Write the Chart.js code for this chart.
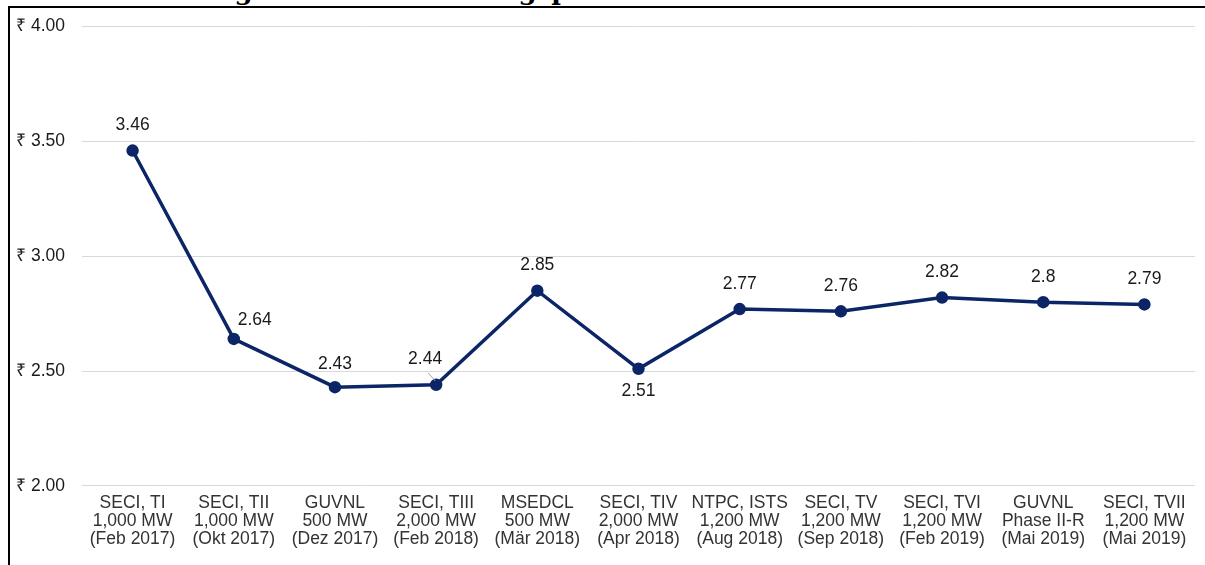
<!DOCTYPE html>
<html>
<head>
<meta charset="utf-8">
<script src="https://cdn.jsdelivr.net/npm/chart.js@4.4.1/dist/chart.umd.min.js"></script>
<style>
  body { margin: 0; background: #fff; overflow: hidden; }
  #title {
    position: absolute; left: 70px; top: -24px;
    font: bold 26px "DejaVu Serif", "Liberation Serif", serif; color: #000;
    white-space: nowrap;
  }
  #box {
    position: absolute; left: 8px; top: 6px; width: 1197px; height: 559px;
    border-left: 2px solid #000; border-top: 2px solid #000; background: #fff;
  }
  #mycanvas { display: block; position: relative; top: -9px; }
</style>
</head>
<body>
<div id="title">Entwicklung der Ausschreibungspreise</div>
<div id="box"><canvas id="mycanvas" width="1195" height="566"></canvas></div>
<script>
// auctions (x axis)
var auctions = [
    ['SECI, TI', '1,000 MW', '(Feb 2017)'],
    ['SECI, TII', '1,000 MW', '(Okt 2017)'],
    ['GUVNL', '500 MW', '(Dez 2017)'],
    ['SECI, TIII', '2,000 MW', '(Feb 2018)'],
    ['MSEDCL', '500 MW', '(Mär 2018)'],
    ['SECI, TIV', '2,000 MW', '(Apr 2018)'],
    ['NTPC, ISTS', '1,200 MW', '(Aug 2018)'],
    ['SECI, TV', '1,200 MW', '(Sep 2018)'],
    ['SECI, TVI', '1,200 MW', '(Feb 2019)'],
    ['GUVNL', 'Phase II-R', '(Mai 2019)'],
    ['SECI, TVII', '1,200 MW', '(Mai 2019)']
];
// tariff in rupees per kWh
var tariff = [3.46, 2.64, 2.43, 2.44, 2.85, 2.51, 2.77, 2.76, 2.82, 2.8, 2.79];
var yTicks = [2.0, 2.5, 3.0, 3.5, 4.0];

// label placement: [dx, dy] from the point
var labelShift = [[0, -25], [21, -19], [0, -23], [-11, -26], [0, -25], [0, 22], [0, -25], [0, -25], [0, -25], [0, -25], [0, -25]];

var pointLabels = {
    id: 'pointLabels',
    afterDatasetsDraw: function (chart) {
        var ctx = chart.ctx;
        var meta = chart.getDatasetMeta(0);
        ctx.save();
        ctx.font = '17.5px "Liberation Sans", Arial, sans-serif';
        ctx.fillStyle = '#1a1a1a';
        ctx.textAlign = 'center';
        ctx.textBaseline = 'middle';
        meta.data.forEach(function (pt, i) {
            var s = labelShift[i];
            ctx.fillText(String(tariff[i]), pt.x + s[0], pt.y + s[1]);
            if (i == 3) {
                ctx.strokeStyle = '#a6a6a6';
                ctx.lineWidth = 1;
                ctx.beginPath();
                ctx.moveTo(pt.x - 8, pt.y - 12);
                ctx.lineTo(pt.x - 1, pt.y - 4);
                ctx.stroke();
            }
        });
        ctx.restore();
    }
};

var ctx = document.getElementById('mycanvas');
var lineChart = new Chart(ctx, {
    type: 'line',
    data: {
        labels: auctions,
        datasets: [{
            label: 'Tarif',
            data: tariff,
            borderColor: '#0b2566',
            backgroundColor: '#0b2566',
            borderWidth: 3.5,
            pointRadius: 4.5,
            pointHoverRadius: 4.5,
            tension: 0
        }]
    },
    options: {
        responsive: false,
        animation: false,
        devicePixelRatio: 1,
        layout: { padding: { left: 0, right: 10, top: 0, bottom: 17 } },
        plugins: { legend: { display: false }, tooltip: { enabled: false } },
        scales: {
            x: {
                offset: true,
                grid: { display: false },
                border: { display: false },
                ticks: {
                    color: '#333',
                    font: { family: '"Liberation Sans", Arial, sans-serif', size: 17.5, lineHeight: 1.03 },
                    maxRotation: 0,
                    autoSkip: false,
                    padding: 0
                }
            },
            y: {
                min: 2,
                max: 4,
                afterBuildTicks: function (axis) {
                    axis.ticks = yTicks.map(function (v) { return { value: v }; });
                },
                afterFit: function (axis) { axis.width = 72; },
                grid: { color: '#d9d9d9', drawTicks: false, lineWidth: 1 },
                border: { display: false },
                ticks: {
                    color: '#1a1a1a',
                    padding: 17,
                    font: { family: '"Liberation Sans", Arial, sans-serif', size: 17.5 },
                    callback: function (v) { return '₹ ' + Number(v).toFixed(2); }
                }
            }
        }
    },
    plugins: [pointLabels]
});
</script>
</body>
</html>
